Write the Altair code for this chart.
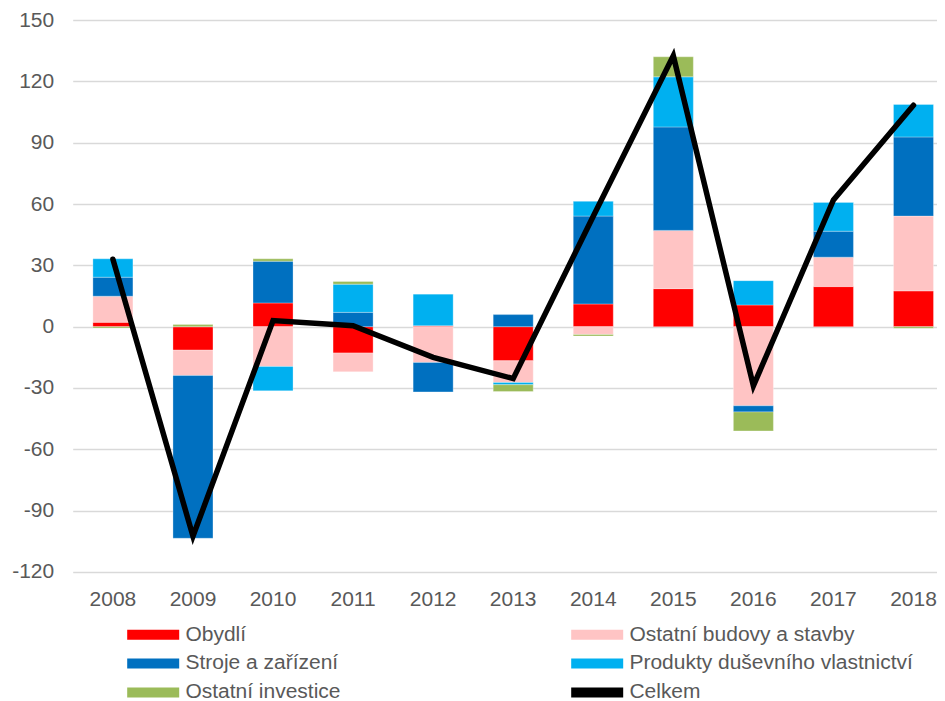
import altair as alt
import pandas as pd

years = ["2008", "2009", "2010", "2011", "2012", "2013", "2014", "2015", "2016", "2017", "2018"]

series_names = [
    "Obydlí",
    "Ostatní budovy a stavby",
    "Stroje a zařízení",
    "Produkty duševního vlastnictví",
    "Ostatní investice",
]
total_name = "Celkem"

obydli = [2.1, -11.5, 11.6, -12.9, 0.5, -16.7, 11.1, 18.6, 10.6, 19.6, 17.5]
ostatni_budovy = [12.8, -12.4, -19.5, -9.2, -17.5, -10.6, -3.8, 28.5, -38.7, 14.4, 36.6]
stroje = [9.3, -79.6, 20.4, 7.0, -14.4, 5.9, 43.0, 50.6, -3.0, 12.7, 38.7]
produkty = [9.0, 0.0, -11.9, 13.8, 15.5, -1.1, 7.2, 24.5, 11.9, 14.2, 15.9]
ostatni_inv = [-0.7, 1.0, 1.2, 1.3, 0.0, -3.3, -0.8, 9.8, -9.3, 0.0, -0.8]
celkem = [33.0, -102.5, 3.0, 0.5, -15.0, -25.4, 54.0, 132.5, -29.0, 62.0, 108.3]

color_of = {
    "Obydlí": "#FF0000",
    "Ostatní budovy a stavby": "#FFC4C4",
    "Stroje a zařízení": "#0070C0",
    "Produkty duševního vlastnictví": "#00B0F0",
    "Ostatní investice": "#9BBB59",
    "Celkem": "#000000",
}
# legend fills column by column (2 columns x 3 rows)
legend_order = [
    "Obydlí",
    "Stroje a zařízení",
    "Ostatní investice",
    "Ostatní budovy a stavby",
    "Produkty duševního vlastnictví",
    "Celkem",
]
y_ticks = [-120, -90, -60, -30, 0, 30, 60, 90, 120, 150]

rows = []
for k, (name, vals) in enumerate(zip(series_names, [obydli, ostatni_budovy, stroje, produkty, ostatni_inv])):
    for yr, v in zip(years, vals):
        rows.append({"rok": yr, "serie": name, "hodnota": v, "ord": k})
bars_df = pd.DataFrame(rows)
line_df = pd.DataFrame({"rok": years, "hodnota": celkem})

FONT = "Liberation Sans"
TXT = "#595959"

x_enc = alt.X(
    "rok:N",
    sort=years,
    title=None,
    scale=alt.Scale(paddingInner=0.5, paddingOuter=0.146, align=0.864),
    axis=alt.Axis(
        labelAngle=0, labelFontSize=21, labelColor=TXT, labelFont=FONT,
        ticks=False, tickSize=0, domain=False, grid=False, labelPadding=16.5,
    ),
)
y_scale = alt.Scale(domain=[-120, 150], nice=False, zero=False)
y_axis = alt.Axis(
    values=y_ticks, labelFontSize=21, labelColor=TXT, labelFont=FONT,
    labelExpr="'' + datum.value",
    ticks=False, tickSize=0, domain=False, grid=True, gridColor="#D9D9D9",
    gridWidth=1.3, labelPadding=19,
)

bars = alt.Chart(bars_df).mark_bar(stroke="white", strokeWidth=0.6, strokeOpacity=0.5).encode(
    x=x_enc,
    y=alt.Y("hodnota:Q", stack="zero", scale=y_scale, axis=y_axis, title=None),
    color=alt.Color(
        "serie:N",
        scale=alt.Scale(domain=legend_order, range=[color_of[n] for n in legend_order]),
        legend=alt.Legend(
            orient="none", legendX=54, legendY=604, columns=2,
            columnPadding=230, rowPadding=7, title=None,
            symbolType="M-1,-0.5H4.2V0.5H-1Z", symbolSize=400,
            symbolStrokeWidth=0, symbolOpacity=1, labelOffset=37.7,
            labelFontSize=21, labelColor=TXT, labelFont=FONT, labelLimit=500,
        ),
    ),
    order=alt.Order("ord:Q", sort="ascending"),
)

line = alt.Chart(line_df).mark_line(color="black", strokeWidth=5.5, strokeJoin="miter", strokeCap="round").encode(
    x=alt.X("rok:N", sort=years),
    y=alt.Y("hodnota:Q", scale=y_scale),
)

chart = alt.layer(bars, line).properties(
    width=864,
    height=552,
    autosize=alt.AutoSizeParams(type="none"),
    padding={"left": 64.7, "top": 12, "right": 0, "bottom": 129},
).configure_view(stroke=None)

chart.save("out.html", embed_options={"renderer": "svg", "actions": False})
